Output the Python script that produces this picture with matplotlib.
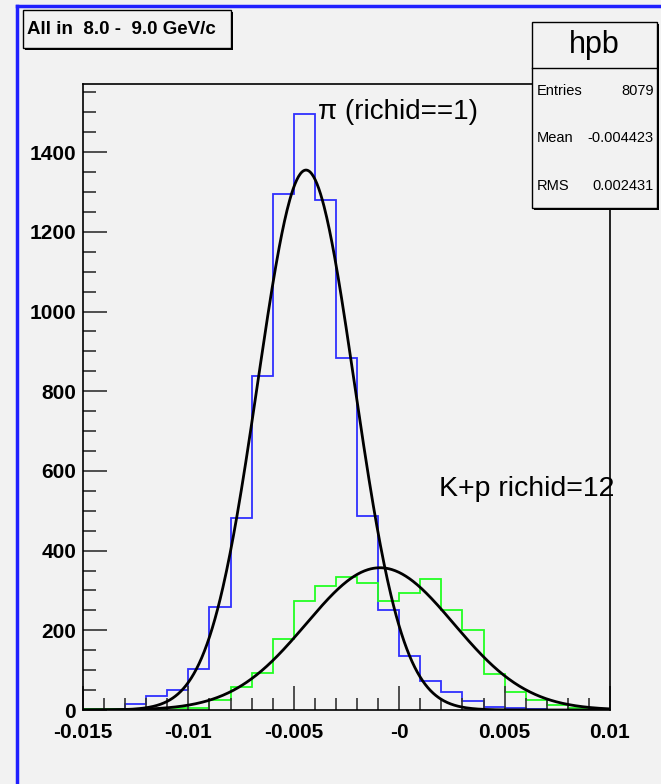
import numpy as np
import matplotlib
matplotlib.use("Agg")
import matplotlib.pyplot as plt
from matplotlib import font_manager
from matplotlib.patches import Rectangle

# bins: 0.001 wide, from -0.015 to 0.010
bin_lo = -0.015
bin_hi = 0.010
bin_width = 0.001

pion_counts = [3, 3, 14, 34, 49, 103, 258, 483, 839, 1294, 1495, 1279, 884,
               487, 251, 136, 73, 46, 22, 7, 5, 2, 1, 1, 0]
kp_counts = [2, 2, 3, 3, 4, 6, 25, 58, 94, 179, 274, 311, 334, 319, 274,
             293, 329, 251, 202, 90, 46, 25, 12, 5, 2]

# gaussian fit results (amplitude, mean, sigma)
pion_fit = (1355, -0.00442, 0.00229)
kp_fit = (357, -0.00091, 0.00350)

title_text = "All in  8.0 -  9.0 GeV/c"
stats_name = "hpb"
stats_rows = [("Entries", "8079"), ("Mean", "-0.004423"), ("RMS", "0.002431")]
pion_label = "\u03c0 (richid==1)"
kp_label = "K+p richid=12"

x_ticks = [-0.015, -0.01, -0.005, 0, 0.005, 0.01]
x_ticklabels = ["-0.015", "-0.01", "-0.005", "-0", "0.005", "0.01"]
y_ticks = [0, 200, 400, 600, 800, 1000, 1200, 1400]

names = {f.name for f in font_manager.fontManager.ttflist}
FONT = "Liberation Sans Narrow" if "Liberation Sans Narrow" in names else "Liberation Sans"
plt.rcParams["font.family"] = [FONT, "DejaVu Sans"]

BG = "#f2f2f2"
fig = plt.figure(figsize=(6.61, 7.84), dpi=100, facecolor=BG)
W, H = 661, 784


def fx(px):
    return px / W


def fy(py):
    return 1 - py / H


ax = fig.add_axes([fx(83), fy(710), fx(610) - fx(83), fy(84) - fy(710)])
ax.set_facecolor(BG)

edges = np.arange(len(pion_counts) + 1) * bin_width + bin_lo
ax.stairs(pion_counts, edges, baseline=None, color="#3030ff", lw=1.3)
ax.stairs(kp_counts, edges, baseline=None, color="#22ff22", lw=1.3)

xs = np.linspace(bin_lo, bin_hi, 600)
for amp, mu, sig in (pion_fit, kp_fit):
    ax.plot(xs, amp * np.exp(-0.5 * ((xs - mu) / sig) ** 2), color="black", lw=2)

ax.set_xlim(bin_lo, bin_hi)
ax.set_ylim(0, 1571)
ax.set_xticks(x_ticks)
ax.set_xticklabels(x_ticklabels)
ax.set_xticks(np.arange(bin_lo, bin_hi + 1e-9, bin_width), minor=True)
ax.set_yticks(y_ticks)
ax.set_yticks(np.arange(0, 1571, 50), minor=True)
ax.tick_params(axis="both", which="both", direction="in", top=False, right=False,
               color="#333333", width=1.2)
ax.tick_params(axis="both", which="major", length=17, labelsize=15)
ax.tick_params(axis="both", which="minor", length=9)
ax.tick_params(axis="x", pad=9)
ax.tick_params(axis="y", pad=5)
for lab in ax.get_xticklabels() + ax.get_yticklabels():
    lab.set_fontweight("bold")
for sp in ax.spines.values():
    sp.set_linewidth(1.2)
ax.spines["top"].set_visible(False)
ax.spines["right"].set_visible(False)
# frame lines broken by the stats box
fig.add_artist(plt.Line2D([fx(83), fx(532)], [fy(84), fy(84)], color="black", lw=1.2))
fig.add_artist(plt.Line2D([fx(610), fx(610)], [fy(209), fy(710)], color="black", lw=1.2))

ax.text(0.445, 0.955, pion_label, transform=ax.transAxes, fontsize=20,
        ha="left", va="center")
ax.text(0.675, 0.353, kp_label, transform=ax.transAxes, fontsize=20.5,
        ha="left", va="center")

# canvas border
fig.add_artist(plt.Line2D([fx(17), fx(17)], [0, fy(6)], color="#2020ff", lw=2.5))
fig.add_artist(plt.Line2D([fx(17), 1], [fy(6), fy(6)], color="#2020ff", lw=2.5))


def box(x0, y0, x1, y1):
    fig.add_artist(Rectangle((fx(x0) + 0.003, fy(y1) - 0.003), fx(x1) - fx(x0),
                             fy(y0) - fy(y1), transform=fig.transFigure,
                             facecolor="black", edgecolor="none"))
    fig.add_artist(Rectangle((fx(x0), fy(y1)), fx(x1) - fx(x0), fy(y0) - fy(y1),
                             transform=fig.transFigure, facecolor=BG,
                             edgecolor="black", lw=1))


box(23, 10, 231, 48)
fig.text(fx(27), fy(29), title_text, fontsize=13.5, fontweight="bold",
         ha="left", va="center")

box(532, 22, 657, 208)
fig.add_artist(plt.Line2D([fx(532), fx(657)], [fy(68), fy(68)], color="black", lw=1))
fig.text(fx(594), fy(45), stats_name, fontsize=22, ha="center", va="center")
for i, (k, v) in enumerate(stats_rows):
    yy = fy(91 + i * 47.5)
    fig.text(fx(537), yy, k, fontsize=10.5, ha="left", va="center")
    fig.text(fx(654), yy, v, fontsize=10.5, ha="right", va="center")

fig.savefig("out.png", dpi=100, facecolor=BG)
